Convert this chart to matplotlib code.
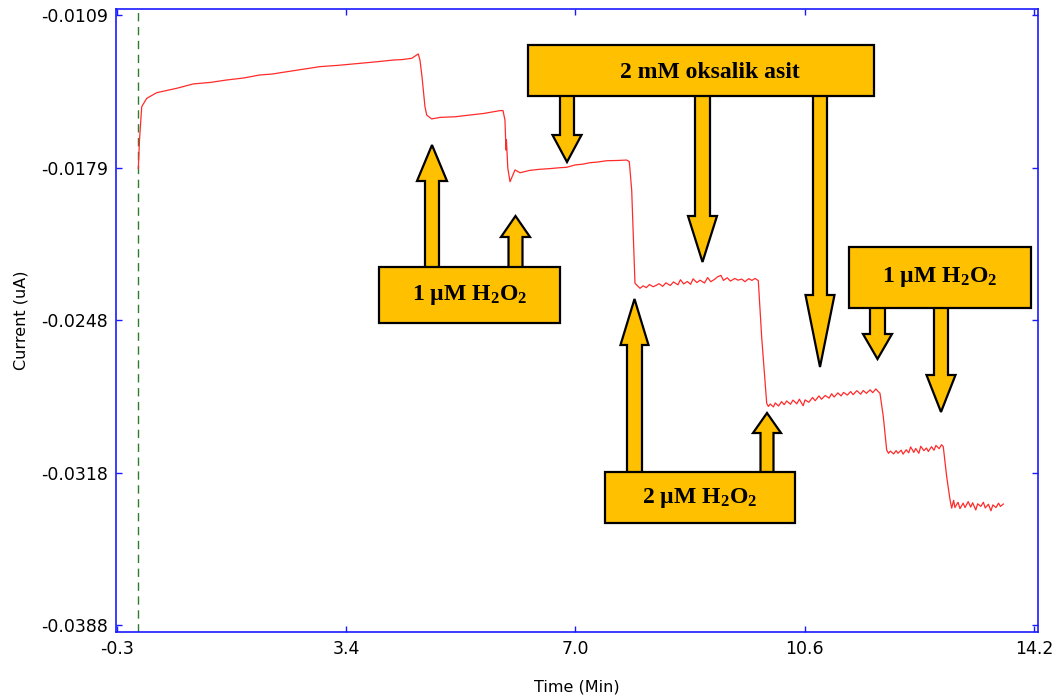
import matplotlib
matplotlib.use("Agg")
import matplotlib.pyplot as plt
from matplotlib.patches import Polygon, Rectangle

# ---- amperometric trace: time (min) and current (uA) ----
time_min = [
    0.037, 0.056, 0.091, 0.170, 0.328, 0.644, 0.907, 1.180, 1.435, 1.700,
    1.961, 2.150, 2.325, 2.600, 2.910, 3.200, 3.543, 3.800, 4.064, 4.200,
    4.360, 4.464, 4.491, 4.523, 4.570, 4.597, 4.676, 4.808, 5.050, 5.282,
    5.500, 5.756, 5.804, 5.835, 5.851, 5.858, 5.880, 5.915, 5.994, 6.073,
    6.230, 6.389, 6.550, 6.700, 6.811, 6.950, 7.060, 7.180, 7.300, 7.444,
    7.600, 7.760, 7.801, 7.839, 7.891,
    7.97, 8.02, 8.07, 8.12, 8.18, 8.23, 8.27, 8.33, 8.38, 8.45, 8.50, 8.57,
    8.61, 8.66, 8.72, 8.77, 8.81, 8.87, 8.92, 8.99, 9.04, 9.09, 9.15, 9.20,
    9.25, 9.29, 9.35, 9.40, 9.47, 9.52, 9.58, 9.63, 9.69, 9.74, 9.79, 9.82,
    9.841, 9.894,
    9.974, 10.00, 10.03, 10.08, 10.11, 10.16, 10.21, 10.25, 10.29, 10.35,
    10.39, 10.45, 10.49, 10.55, 10.58, 10.64, 10.70, 10.74, 10.80, 10.84,
    10.90, 10.96, 11.00, 11.04, 11.10, 11.15, 11.19, 11.25, 11.30, 11.34,
    11.40, 11.46, 11.50, 11.55, 11.61, 11.65, 11.70, 11.74, 11.765, 11.818,
    11.871, 11.90, 11.93, 11.98, 12.02, 12.05, 12.10, 12.13, 12.18, 12.22,
    12.25, 12.30, 12.33, 12.38, 12.41, 12.46, 12.50, 12.53, 12.58, 12.62,
    12.65, 12.70, 12.74, 12.766, 12.82, 12.87, 12.899,
    12.93, 12.95, 13.00, 13.03, 13.08, 13.11, 13.16, 13.20, 13.23, 13.28,
    13.31, 13.36, 13.40, 13.43, 13.48, 13.52, 13.55, 13.60, 13.64, 13.67,
    13.715,
]
current_ua = [
    -0.01791, -0.01661, -0.01509, -0.01471, -0.01445, -0.01425, -0.01405, -0.01398, -0.01387, -0.01378,
    -0.01364, -0.01360, -0.01352, -0.01340, -0.01326, -0.01320, -0.01311, -0.01304, -0.01296, -0.01294,
    -0.01288, -0.01268, -0.01296, -0.01372, -0.01509, -0.01547, -0.01565, -0.01558, -0.01555, -0.01547,
    -0.01540, -0.01527, -0.01527, -0.01570, -0.01707, -0.01660, -0.01790, -0.01852, -0.01798, -0.01811,
    -0.01800, -0.01795, -0.01792, -0.01788, -0.01786, -0.01775, -0.01772, -0.01765, -0.01762, -0.01756,
    -0.01755, -0.01753, -0.01760, -0.01890, -0.02316,
    -0.02339, -0.02328, -0.02336, -0.02322, -0.02332, -0.02325, -0.02318, -0.02330, -0.02314, -0.02326, -0.02310, -0.02323,
    -0.02300, -0.02319, -0.02308, -0.02321, -0.02296, -0.02313, -0.02302, -0.02315, -0.02290, -0.02309, -0.02298, -0.02286,
    -0.02280, -0.02303, -0.02291, -0.02306, -0.02294, -0.02302, -0.02297, -0.02309, -0.02295, -0.02303, -0.02294, -0.02300,
    -0.02304, -0.02560,
    -0.02865, -0.02879, -0.02868, -0.02881, -0.02863, -0.02877, -0.02857, -0.02871, -0.02854, -0.02869,
    -0.02850, -0.02867, -0.02846, -0.02876, -0.02849, -0.02860, -0.02838, -0.02853, -0.02831, -0.02846,
    -0.02829, -0.02841, -0.02821, -0.02836, -0.02817, -0.02831, -0.02815, -0.02827, -0.02811, -0.02825,
    -0.02807, -0.02823, -0.02806, -0.02819, -0.02803, -0.02816, -0.02799, -0.02812, -0.02819, -0.02926,
    -0.03078, -0.03093, -0.03083, -0.03096, -0.03081, -0.03093, -0.03079, -0.03097, -0.03077, -0.03091,
    -0.03064, -0.03089, -0.03071, -0.03093, -0.03061, -0.03081, -0.03069, -0.03085, -0.03063, -0.03079,
    -0.03057, -0.03072, -0.03054, -0.03063, -0.03200, -0.03300, -0.03344,
    -0.03308, -0.03341, -0.03317, -0.03346, -0.03321, -0.03341, -0.03314, -0.03339, -0.03319, -0.03352,
    -0.03324, -0.03336, -0.03317, -0.03343, -0.03326, -0.03356, -0.03329, -0.03341, -0.03321, -0.03336,
    -0.03325,
]

# injection start marker (min)
start_marker = 0.027

# axis ticks
x_ticks = [-0.3, 3.325, 6.95, 10.575, 14.2]
x_tick_labels = ["-0.3", "3.4", "7.0", "10.6", "14.2"]
y_ticks = [-0.0388, -0.031825, -0.02485, -0.017875, -0.0109]
y_tick_labels = ["-0.0388", "-0.0318", "-0.0248", "-0.0179", "-0.0109"]

# callout labels
label_1uM = r"$\mathrm{1\ µM\ H_2O_2}$"
label_2uM = r"$\mathrm{2\ µM\ H_2O_2}$"
label_oxalic = "2 mM oksalik asit"

plt.rcParams["mathtext.fontset"] = "custom"
plt.rcParams["mathtext.rm"] = "Liberation Serif:bold"
plt.rcParams["mathtext.it"] = "Liberation Serif:bold:italic"
plt.rcParams["mathtext.bf"] = "Liberation Serif:bold"

W, H = 1064, 699
fig = plt.figure(figsize=(W / 100, H / 100), dpi=100)
ax = fig.add_axes([0.10902, 0.09585, 0.86654, 0.89127])

ax.plot(time_min, current_ua, color="#ff2b2b", lw=0.9, zorder=3)
ax.axvline(start_marker, color="#2e7d2e", lw=1.0, ls=(0, (6, 4)), zorder=2)

ax.set_xlim(-0.3158, 14.264)
ax.set_ylim(-0.039099, -0.010626)
ax.set_xticks(x_ticks)
ax.set_xticklabels(x_tick_labels)
ax.set_yticks(y_ticks)
ax.set_yticklabels(y_tick_labels)

for s in ax.spines.values():
    s.set_color("#1a1aff")
    s.set_linewidth(1.2)
ax.tick_params(direction="in", length=4, width=1, colors="#1a1aff",
               labelcolor="black", labelsize=12.5, top=True, right=True, pad=6)
for lab in ax.get_xticklabels() + ax.get_yticklabels():
    lab.set_family("DejaVu Sans")

ax.set_xlabel("Time (Min)", fontsize=11.5, labelpad=15, family="DejaVu Sans")
ax.set_ylabel("Current (uA)", fontsize=11.5, labelpad=9, family="DejaVu Sans")


# ---- callout boxes and arrows, laid out in pixel space ----
def fx(px):
    return px / W


def fy(py):
    return 1 - py / H


ORANGE = "#ffc000"


def box(x0, y0, x1, y1, text, tx=None, ty=None):
    r = Rectangle((fx(x0), fy(y1)), fx(x1) - fx(x0), fy(y0) - fy(y1),
                  transform=fig.transFigure, facecolor=ORANGE,
                  edgecolor="black", lw=1.6, zorder=6)
    fig.add_artist(r)
    cx = (x0 + x1) / 2 if tx is None else tx
    cy = (y0 + y1) / 2 if ty is None else ty
    fig.text(fx(cx), fy(cy), text, ha="center", va="center", fontsize=17,
             family="Liberation Serif", weight="bold", color="black", zorder=7)


def arrow(xc, y_start, y_tip, shaft_half, head_half, y_head):
    pts = [
        (xc - shaft_half, y_start), (xc - shaft_half, y_head),
        (xc - head_half, y_head), (xc, y_tip), (xc + head_half, y_head),
        (xc + shaft_half, y_head), (xc + shaft_half, y_start),
    ]
    poly = Polygon([(fx(a), fy(b)) for a, b in pts], closed=True,
                   transform=fig.transFigure, facecolor=ORANGE,
                   edgecolor="black", lw=1.6, zorder=5)
    fig.add_artist(poly)


# left 1 uM group
arrow(432, 268, 145, 7, 15, 181)
arrow(515.5, 268, 216, 7, 14.5, 237)
box(379, 267, 560, 323, label_1uM)

# oxalic acid group
arrow(567, 95, 162, 7, 14.5, 135)
arrow(702.5, 95, 262, 7.5, 14.5, 216)
arrow(820, 95, 367, 7, 14.5, 295)
box(528, 45, 874, 96, label_oxalic, tx=710, ty=72)

# 2 uM group
arrow(634.5, 473, 299, 7.5, 14, 345)
arrow(767, 473, 413, 6.5, 14, 433)
box(605, 472, 795, 523, label_2uM)

# right 1 uM group
arrow(877.5, 307, 359, 7.5, 14.5, 334)
arrow(941, 307, 412, 7, 14.5, 375)
box(849, 247, 1031, 308, label_1uM)

fig.savefig("out.png", dpi=100)
